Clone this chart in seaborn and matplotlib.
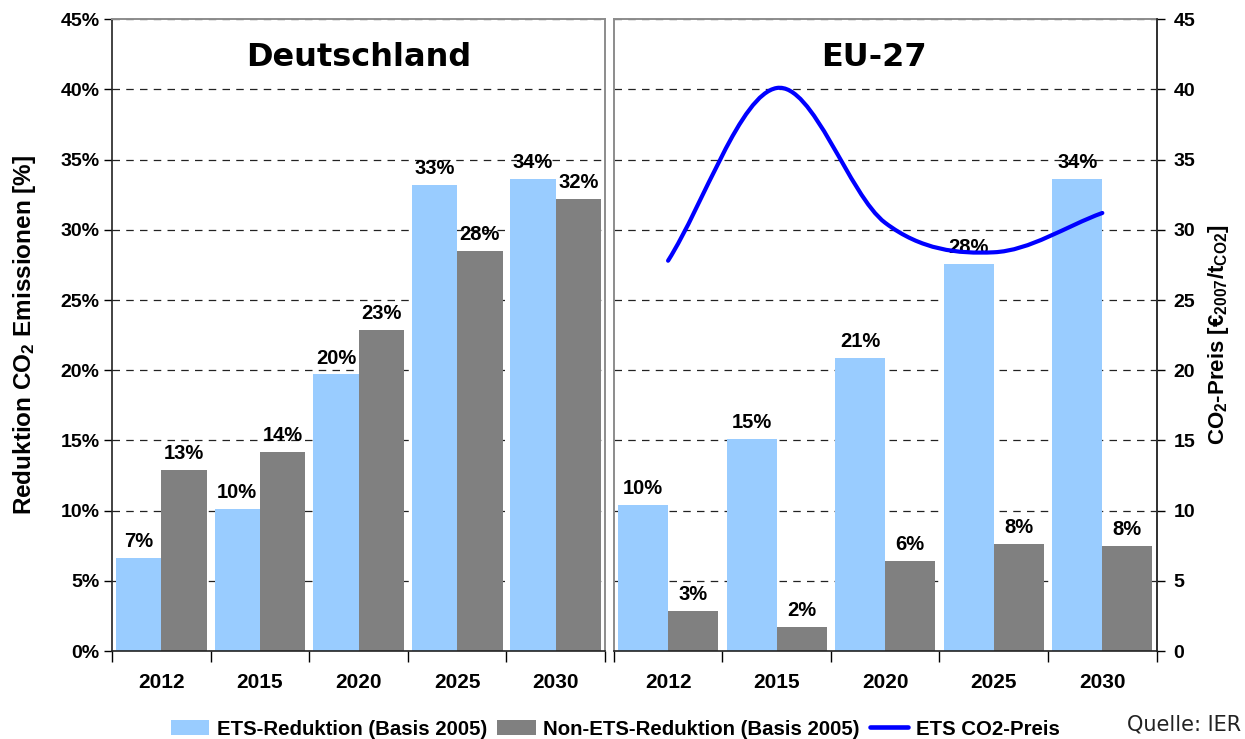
import numpy as np
import pandas as pd
import matplotlib
matplotlib.use('Agg')
import matplotlib.pyplot as plt
import seaborn as sns
from matplotlib.patches import Patch, PathPatch
from matplotlib.lines import Line2D
from matplotlib.path import Path

sns.set_theme(style='white')
plt.rcParams['font.family'] = ['Liberation Sans', 'DejaVu Sans']
plt.rcParams['text.color'] = 'black'
plt.rcParams['axes.labelcolor'] = 'black'
plt.rcParams['xtick.color'] = 'black'
plt.rcParams['ytick.color'] = 'black'
plt.rcParams['mathtext.fontset'] = 'custom'
plt.rcParams['mathtext.rm'] = 'Liberation Sans:bold'
plt.rcParams['mathtext.it'] = 'Liberation Sans:bold'
plt.rcParams['mathtext.bf'] = 'Liberation Sans:bold'
plt.rcParams['mathtext.default'] = 'rm'

# Daten
jahre = ['2012', '2015', '2020', '2025', '2030']
de_ets = [6.6, 10.1, 19.7, 33.2, 33.6]
de_non_ets = [12.9, 14.2, 22.9, 28.5, 32.2]
de_ets_labels = ['7%', '10%', '20%', '33%', '34%']
de_non_ets_labels = ['13%', '14%', '23%', '28%', '32%']

eu_ets = [10.4, 15.1, 20.9, 27.6, 33.6]
eu_non_ets = [2.85, 1.7, 6.4, 7.6, 7.5]
eu_ets_labels = ['10%', '15%', '21%', '28%', '34%']
eu_non_ets_labels = ['3%', '2%', '6%', '8%', '8%']

eu_co2_preis = [27.8, 40.1, 30.5, 28.4, 31.2]

y_ticks = [0, 5, 10, 15, 20, 25, 30, 35, 40, 45]

BLAU_HELL = '#99CCFF'
GRAU = '#808080'
LINIE = '#0000FF'
RAHMEN = '#8c8c8c'
FS_BAR = 14.5
FS_X = 15
FS_Y = 14


def smooth_path(xs, ys):
    # geglaettete Linie (wie Excel), Bezier-Kurven durch die Datenpunkte
    p = np.column_stack([xs, ys]).astype(float)
    n = len(p)
    tang = np.zeros_like(p)
    for i in range(n):
        a = p[max(i - 1, 0)]
        b = p[min(i + 1, n - 1)]
        tang[i] = (b - a) / 2 if 0 < i < n - 1 else (b - a)
    verts = [p[0]]
    codes = [Path.MOVETO]
    for i in range(n - 1):
        verts += [p[i] + tang[i] / 3, p[i + 1] - tang[i + 1] / 3, p[i + 1]]
        codes += [Path.CURVE4] * 3
    return Path(verts, codes)


def draw_panel(ax, ets, non_ets, ets_labels, non_labels, title, title_x):
    df = pd.DataFrame({'Jahr': jahre * 2,
                       'Wert': ets + non_ets,
                       'Typ': ['ETS'] * len(jahre) + ['Non-ETS'] * len(jahre)})
    sns.barplot(data=df, x='Jahr', y='Wert', hue='Typ', palette=[BLAU_HELL, GRAU],
                width=0.92, saturation=1, ax=ax, legend=False, zorder=2,
                linewidth=0, edgecolor='none')
    ax.bar_label(ax.containers[0], labels=ets_labels, padding=5,
                 fontsize=FS_BAR, fontweight='bold')
    ax.bar_label(ax.containers[1], labels=non_labels, padding=5,
                 fontsize=FS_BAR, fontweight='bold')
    ax.set_xlim(-0.5, len(jahre) - 0.5)
    ax.set_ylim(0, 45)
    ax.set_xlabel('')
    ax.set_ylabel('')
    ax.set_xticks(np.arange(-0.5, len(jahre), 1))
    ax.set_xticklabels([])
    ax.set_xticks(range(len(jahre)), minor=True)
    ax.set_xticklabels(jahre, minor=True, fontsize=FS_X, fontweight='bold')
    ax.tick_params(axis='x', which='major', length=8, width=1, color='black',
                   direction='out', bottom=True)
    ax.tick_params(axis='x', which='minor', length=0, pad=16)
    ax.set_yticks(y_ticks)
    ax.yaxis.grid(True, linestyle=(0, (6, 5)), color='#222222', linewidth=0.9)
    ax.xaxis.grid(False)
    ax.set_axisbelow(True)
    for s in ['top', 'right', 'left']:
        ax.spines[s].set_color(RAHMEN)
        ax.spines[s].set_linewidth(1.4)
    ax.spines['bottom'].set_color('#222222')
    ax.spines['bottom'].set_linewidth(1.2)
    ax.text(title_x, 0.94, title, transform=ax.transAxes, ha='center', va='center',
            fontsize=23, fontweight='bold', family='DejaVu Sans')


fig = plt.figure(figsize=(12.45, 7.39), dpi=100)
ax_de = fig.add_axes([0.090, 0.119, 0.396, 0.855])
ax_eu = fig.add_axes([0.493, 0.119, 0.436, 0.855])

draw_panel(ax_de, de_ets, de_non_ets, de_ets_labels, de_non_ets_labels, 'Deutschland', 0.5)
draw_panel(ax_eu, eu_ets, eu_non_ets, eu_ets_labels, eu_non_ets_labels, 'EU-27', 0.48)

# linke Achse Deutschland
ax_de.set_yticklabels([f'{v}%' for v in y_ticks], fontsize=FS_Y, fontweight='bold')
ax_de.tick_params(axis='y', left=True, length=6, width=1, color='black', direction='out', pad=3)
ax_de.spines['left'].set_color('#222222')
ax_de.spines['left'].set_linewidth(1.2)
ax_de.set_ylabel('Reduktion CO$_2$ Emissionen [%]', fontsize=17.5, fontweight='bold', labelpad=16)

ax_eu.set_yticklabels([])
ax_eu.tick_params(axis='y', left=False, length=0)

# rechte Achse CO2-Preis
ax2 = ax_eu.twinx()
ax2.set_ylim(0, 45)
ax2.set_yticks(y_ticks)
ax2.set_yticklabels([str(v) for v in y_ticks], fontsize=FS_Y, fontweight='bold')
ax2.tick_params(axis='y', right=True, length=6, width=1, color='black', direction='out', pad=6)
ax2.grid(False)
for s in ['top', 'left', 'bottom']:
    ax2.spines[s].set_visible(False)
ax2.spines['right'].set_color('#222222')
ax2.spines['right'].set_linewidth(1.2)
ax2.set_ylabel('CO$_2$-Preis [€$_{2007}$/t$_{CO2}$]', fontsize=16, fontweight='bold', labelpad=8)

ax2.add_patch(PathPatch(smooth_path(range(len(jahre)), eu_co2_preis), fill=False,
                        edgecolor=LINIE, linewidth=3.0, capstyle='round', zorder=5))

handles = [Patch(facecolor=BLAU_HELL, edgecolor='none'),
           Patch(facecolor=GRAU, edgecolor='none'),
           Line2D([0], [0], color=LINIE, linewidth=3.3)]
labels = ['ETS-Reduktion (Basis 2005)', 'Non-ETS-Reduktion (Basis 2005)', 'ETS CO2-Preis']
fig.legend(handles, labels, loc='center', bbox_to_anchor=(0.494, 0.0135), ncol=3,
           frameon=False, prop={'weight': 'bold', 'size': 14.7}, handlelength=1.9,
           handletextpad=0.35, columnspacing=0.5, borderaxespad=0, borderpad=0)

fig.text(0.997, 0.019, 'Quelle: IER', ha='right', va='center', fontsize=15,
         family='DejaVu Sans', color='#222222')

fig.savefig('out.png', dpi=100)
